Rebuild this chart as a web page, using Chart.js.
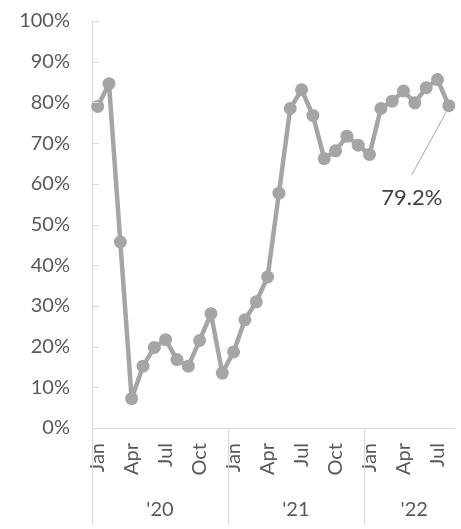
<!DOCTYPE html>
<html>
<head>
<meta charset="utf-8">
<script src="https://cdn.jsdelivr.net/npm/chart.js@4"></script>
<style>
  body { margin: 0; background: #fff; }
  #wrap { width: 461px; height: 529px; position: relative; }
</style>
</head>
<body>
<div id="wrap"><canvas id="rateChart"></canvas></div>
<script>
// months Jan 2020 .. Aug 2022
const monthLabels = [
  'Jan','Feb','Mar','Apr','May','Jun','Jul','Aug','Sep','Oct','Nov','Dec',
  'Jan','Feb','Mar','Apr','May','Jun','Jul','Aug','Sep','Oct','Nov','Dec',
  'Jan','Feb','Mar','Apr','May','Jun','Jul','Aug'
];
const yearGroups = ["'20", "'21", "'22"];
const groupSizes = [12, 12, 8];
const shownMonths = ['Jan', 'Apr', 'Jul', 'Oct'];
const rates = [
  79.0, 84.6, 45.7, 7.2, 15.2, 19.8, 21.7, 16.8, 15.2, 21.5, 28.1, 13.5,
  18.7, 26.6, 31.0, 37.1, 57.7, 78.5, 83.1, 76.8, 66.2, 68.1, 71.7, 69.5,
  67.2, 78.5, 80.3, 82.8, 79.9, 83.6, 85.6, 79.2
];

const FONT = 'Lato, "Open Sans", sans-serif';
const axisColor = '#D9D9D9';
const textColor = '#595959';

function noPad(scale) {
  scale.paddingLeft = 0;
  scale.paddingRight = 0;
  scale.paddingTop = 0;
  scale.paddingBottom = 0;
}

const extras = {
  id: 'extras',
  afterDraw(chart) {
    const ctx = chart.ctx;
    const x = chart.scales.x, y = chart.scales.y;
    const area = chart.chartArea;
    ctx.save();
    ctx.strokeStyle = axisColor;
    ctx.lineWidth = 1;

    // inside tick marks on the value axis
    y.ticks.forEach(t => {
      const py = Math.round(y.getPixelForValue(t.value)) + 0.5;
      ctx.beginPath();
      ctx.moveTo(area.left, py);
      ctx.lineTo(area.left + 7, py);
      ctx.stroke();
    });

    // year group separators and labels
    let start = 0;
    ctx.font = '20px ' + FONT;
    ctx.fillStyle = textColor;
    ctx.textAlign = 'center';
    ctx.textBaseline = 'middle';
    groupSizes.forEach((n, g) => {
      const left = start === 0 ? area.left
        : (x.getPixelForValue(start - 1) + x.getPixelForValue(start)) / 2;
      const end = start + n;
      const right = end >= monthLabels.length ? area.right
        : (x.getPixelForValue(end - 1) + x.getPixelForValue(end)) / 2;
      const lx = Math.round(left) + 0.5;
      ctx.beginPath();
      ctx.moveTo(lx, area.bottom);
      ctx.lineTo(lx, 525);
      ctx.stroke();
      ctx.fillText(yearGroups[g], (left + right) / 2 + (g === 2 ? 5 : 0), 510);
      start = end;
    });

    // callout for last value
    const meta = chart.getDatasetMeta(0);
    const last = meta.data[meta.data.length - 1];
    ctx.strokeStyle = '#A5A5A5';
    ctx.beginPath();
    ctx.moveTo(last.x - 3, last.y + 7);
    ctx.lineTo(last.x - 37, last.y + 69);
    ctx.stroke();
    ctx.font = '22px ' + FONT;
    ctx.fillStyle = '#404040';
    ctx.fillText(rates[rates.length - 1].toFixed(1) + '%', last.x - 37, last.y + 92);
    ctx.restore();
  }
};

new Chart(document.getElementById('rateChart'), {
  type: 'line',
  data: {
    labels: monthLabels,
    datasets: [{
      data: rates,
      borderColor: '#A5A5A5',
      backgroundColor: '#A5A5A5',
      borderWidth: 4.5,
      borderJoinStyle: 'round',
      borderCapStyle: 'round',
      pointRadius: 6.5,
      pointBorderWidth: 0,
      pointBackgroundColor: '#A5A5A5',
      tension: 0,
      clip: false
    }]
  },
  options: {
    responsive: true,
    maintainAspectRatio: false,
    animation: false,
    layout: { padding: { top: 21, right: 5, bottom: 0, left: 0 } },
    plugins: { legend: { display: false }, tooltip: { enabled: false } },
    scales: {
      x: {
        offset: true,
        grid: { display: false, drawTicks: false },
        border: { display: true, color: axisColor, width: 1 },
        afterFit(scale) { scale.height = 101; noPad(scale); },
        ticks: {
          autoSkip: false,
          minRotation: 90,
          maxRotation: 90,
          padding: 15,
          color: textColor,
          font: { family: FONT, size: 20 },
          callback(v) {
            const m = monthLabels[v];
            return shownMonths.includes(m) ? m : '';
          }
        }
      },
      y: {
        min: 0,
        max: 100,
        grid: { display: false, drawTicks: false },
        border: { display: true, color: axisColor, width: 1 },
        afterFit(scale) { scale.width = 92; noPad(scale); },
        ticks: {
          stepSize: 10,
          padding: 22,
          color: textColor,
          font: { family: FONT, size: 20 },
          callback: v => v + '%'
        }
      }
    }
  },
  plugins: [extras]
});
</script>
</body>
</html>
